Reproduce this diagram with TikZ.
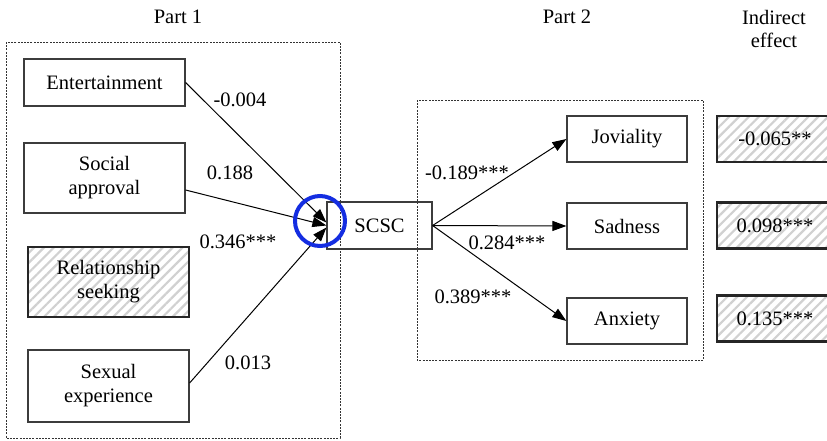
\documentclass[tikz,border=0pt]{standalone}
\usepackage{fontspec}
\setmainfont{Liberation Serif}
\usetikzlibrary{arrows.meta,patterns.meta}
\definecolor{ringblue}{RGB}{20,45,225}
\definecolor{boxline}{RGB}{60,60,60}
\begin{document}
\begin{tikzpicture}[x=1pt,y=-1pt,
  every node/.style={font=\fontsize{20.5}{24}\selectfont},
  varbox/.style={draw=boxline,line width=1.2pt,inner sep=0pt,align=center},
  hatchbox/.style={varbox,line width=2.2pt,draw=black!85,
    pattern={Lines[angle=45,distance=7pt,line width=2.2pt]},pattern color=black!18},
  partbox/.style={draw=black!80,line width=0.9pt,dash pattern=on 2pt off 1.2pt},
  path/.style={draw=black,line width=1pt,-{Triangle[length=14pt,width=10pt]}},
  coef/.style={inner sep=0pt}]
\clip (0,0) rectangle (827,440);
\fill[white] (0,0) rectangle (827,440);

% group frames and headings
\draw[partbox] (6,42) rectangle (340,438);
\draw[partbox] (417,100) rectangle (703,360);
\node (p1) at (178,17) {Part 1};
\node (p2) at (567,17) {Part 2};
\node[align=center,font=\fontsize{20.5}{23}\selectfont] (ie) at (774,29) {Indirect\\effect};

% predictors
\node[varbox,minimum width=161pt,minimum height=47pt] (ent) at (104.5,82.5) {Entertainment};
\node[varbox,minimum width=161pt,minimum height=70pt] (soc) at (104.5,178) {Social\\approval};
\node[hatchbox,minimum width=161pt,minimum height=70pt] (rel) at (108.5,282) {Relationship\\seeking};
\node[varbox,minimum width=161pt,minimum height=72pt] (sex) at (108.5,386) {Sexual\\experience};

% mediator
\node[varbox,minimum width=105pt,minimum height=47pt] (scsc) at (379.5,225.5) {SCSC};

% outcomes
\node[varbox,minimum width=120pt,minimum height=46pt] (jov) at (627,139) {Joviality};
\node[varbox,minimum width=120pt,minimum height=46pt] (sad) at (627,226) {Sadness};
\node[varbox,minimum width=120pt,minimum height=46pt] (anx) at (627,321) {Anxiety};

% indirect effects
\node[hatchbox,minimum width=116pt,minimum height=46pt] (ie1) at (775,139) {-0.065**};
\node[hatchbox,minimum width=116pt,minimum height=46pt] (ie2) at (775,225.5) {0.098***};
\node[hatchbox,minimum width=116pt,minimum height=46pt] (ie3) at (775,318.5) {0.135***};

% paths into the mediator
\draw[path] (ent.east) -- ([yshift=3pt]scsc.west);
\draw[path] ([yshift=-12pt]soc.east) -- (scsc.west);
\draw[path] ([yshift=3pt]sex.east) -- ([yshift=-2pt]scsc.west);

% paths out of the mediator
\draw[path] (scsc.east) -- (jov.west);
\draw[path] (scsc.east) -- (sad.west);
\draw[path] (scsc.east) -- (anx.west);

% highlight ring
\draw[ringblue,line width=4pt] (320,221) circle (25);

% coefficients
\node[coef] (c1) at (240,100) {-0.004};
\node[coef] (c2) at (230,173) {0.188};
\node[coef] (c3) at (238,242) {0.346***};
\node[coef] (c4) at (248,363) {0.013};
\node[coef] (c5) at (467,173) {-0.189***};
\node[coef] (c6) at (507,243) {0.284***};
\node[coef] (c7) at (473,297) {0.389***};
\end{tikzpicture}
\end{document}
